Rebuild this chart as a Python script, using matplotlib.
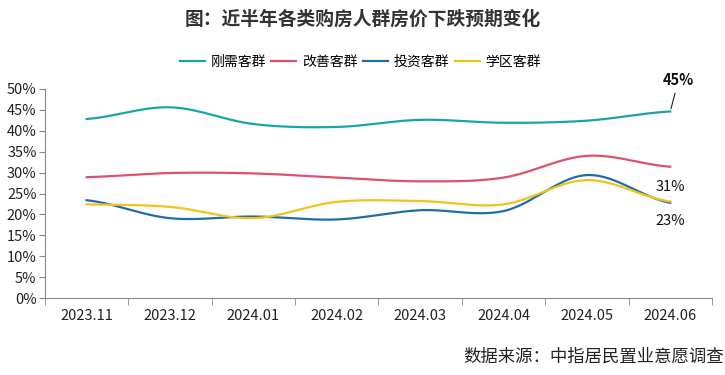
import numpy as np
import matplotlib.pyplot as plt
from matplotlib.ticker import PercentFormatter, FixedLocator

plt.rcParams['font.family'] = ['Noto Sans CJK SC', 'DejaVu Sans']

months = ['2023.11', '2023.12', '2024.01', '2024.02',
          '2024.03', '2024.04', '2024.05', '2024.06']
rigid = [42.8, 45.6, 41.6, 40.9, 42.6, 41.9, 42.4, 44.6]      # 刚需客群
upgrade = [28.9, 29.9, 29.8, 28.8, 27.9, 28.8, 34.0, 31.4]    # 改善客群
invest = [23.4, 19.1, 19.5, 18.8, 21.0, 20.8, 29.4, 22.8]     # 投资客群
school = [22.4, 21.8, 19.1, 23.0, 23.2, 22.4, 28.2, 23.1]     # 学区客群
names = ['刚需客群', '改善客群', '投资客群', '学区客群']
colors = ['#17a7a3', '#df4f6f', '#1d6ea8', '#f2c319']


def smooth(x, y, n=30):
    # catmull-rom style curve through the points, like excel smoothed lines
    x = np.asarray(x, float)
    y = np.asarray(y, float)
    px = np.concatenate([[2 * x[0] - x[1]], x, [2 * x[-1] - x[-2]]])
    py = np.concatenate([[y[0]], y, [y[-1]]])
    xs, ys = [], []
    t = np.linspace(0, 1, n)
    for i in range(1, len(px) - 2):
        for p, out in ((px, xs), (py, ys)):
            p0, p1, p2, p3 = p[i - 1], p[i], p[i + 1], p[i + 2]
            m1 = (p2 - p0) / 2
            m2 = (p3 - p1) / 2
            h00 = 2 * t**3 - 3 * t**2 + 1
            h10 = t**3 - 2 * t**2 + t
            h01 = -2 * t**3 + 3 * t**2
            h11 = t**3 - t**2
            out.extend(h00 * p1 + h10 * m1 + h01 * p2 + h11 * m2)
    return np.array(xs), np.array(ys)


fig = plt.figure(figsize=(7.25, 3.75), dpi=100)
ax = fig.add_axes([0.062, 0.205, 0.92, 0.558])

x = np.arange(len(months))
for vals, name, c in zip([rigid, upgrade, invest, school], names, colors):
    sx, sy = smooth(x, vals)
    ax.plot(sx, sy, color=c, lw=1.6, label=name)

ax.set_xlim(-0.5, len(months) - 0.5)
ax.set_ylim(0, 50)
ax.set_yticks(np.arange(0, 51, 5))
ax.yaxis.set_major_formatter(PercentFormatter(decimals=0))
ax.set_xticks(x)
ax.set_xticklabels(months)
ax.xaxis.set_minor_locator(FixedLocator(np.arange(-0.5, len(months), 1)))
ax.tick_params(axis='x', which='major', length=0, pad=8, labelsize=10.5, colors='#222222')
ax.tick_params(axis='x', which='minor', length=5, color='#888888')
ax.tick_params(axis='y', length=4, color='#888888', labelsize=10.5, labelcolor='#222222', pad=2)
for s in ['top', 'right']:
    ax.spines[s].set_visible(False)
for s in ['left', 'bottom']:
    ax.spines[s].set_color('#888888')

# end labels
ax.annotate('45%', xy=(7, rigid[-1]), xytext=(7.1, 50.3), ha='center', va='bottom',
            fontsize=10.5, fontweight='bold', color='#111111',
            arrowprops=dict(arrowstyle='-', color='#222222', lw=0.8))
ax.text(7.0, 26.5, '31%', ha='center', va='center', fontsize=10.5, color='#111111')
ax.text(7.0, 18.4, '23%', ha='center', va='center', fontsize=10.5, color='#111111')

fig.text(0.5, 0.95, '图：近半年各类购房人群房价下跌预期变化', ha='center', va='center',
         fontsize=13.5, fontweight='bold', color='#333333')
fig.legend(loc='center', bbox_to_anchor=(0.497, 0.835), ncol=4, frameon=False,
           fontsize=10, handlelength=1.8, columnspacing=0.4, handletextpad=0.4)
fig.text(0.998, 0.05, '数据来源：中指居民置业意愿调查', ha='right', va='center',
         fontsize=12.5, color='#222222')

fig.savefig('out.png', dpi=100)
